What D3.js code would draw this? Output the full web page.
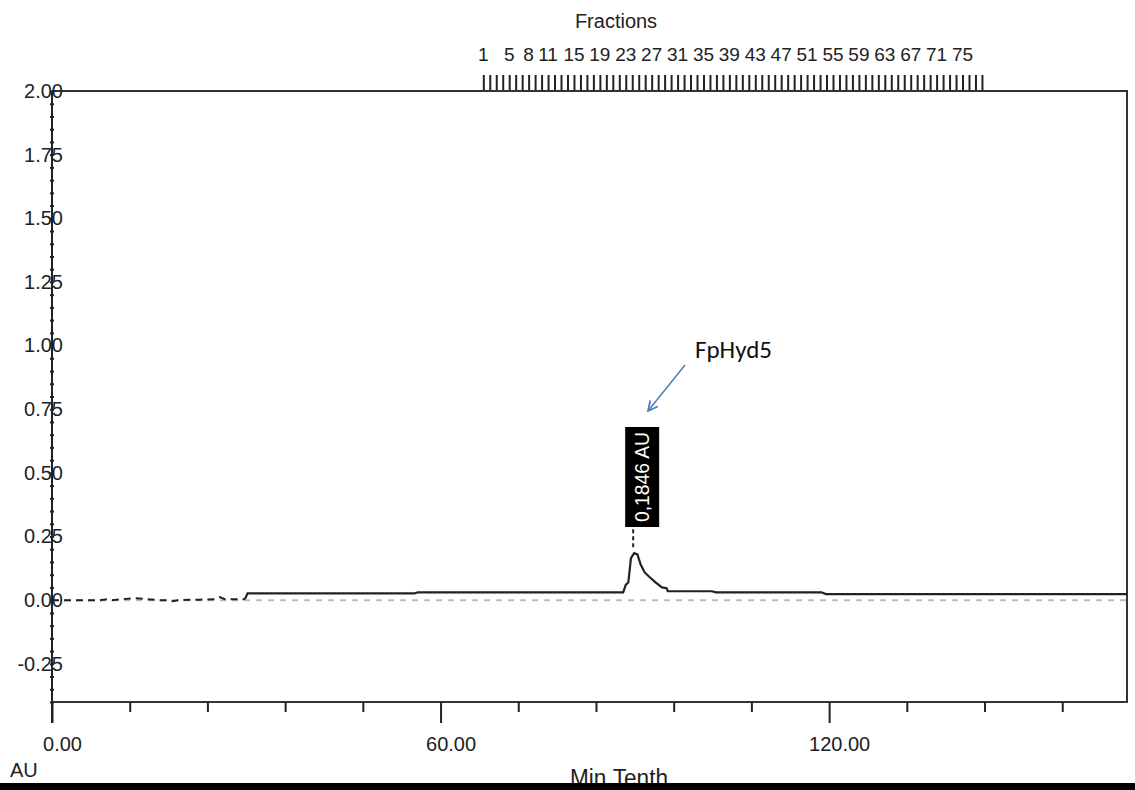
<!DOCTYPE html>
<html>
<head>
<meta charset="utf-8">
<script src="https://cdn.jsdelivr.net/npm/d3@7"></script>
<style>
  body { margin: 0; background: #fff; }
  svg { display: block; font-family: "Liberation Sans", Arial, sans-serif; }
</style>
</head>
<body>
<svg width="1135" height="790"></svg>
<script>
// chromatogram values (x in Min.Tenth, y in AU)
const noiseX = [0, 7.4, 8.5, 9.3, 12.8, 14.7, 16.6, 18.2, 18.7, 19.4, 22.8, 25.1, 25.9, 26.7, 29.8];
const noiseY = [0, 0, 0.004, 0, 0.008, 0.004, 0, 0, -0.004, 0, 0.002, 0.004, 0.012, 0.004, 0.004];

const traceX = [29.8, 30.2, 56.0, 56.5, 88.2, 88.6, 89.0, 89.4, 89.9, 90.4, 90.9, 91.5, 92.3, 93.2, 94.2, 94.9, 95.1, 101.9, 102.5, 118.8, 119.5, 166];
const traceY = [0.004, 0.027, 0.027, 0.031, 0.031, 0.06, 0.07, 0.165, 0.1846, 0.18, 0.14, 0.11, 0.09, 0.07, 0.05, 0.047, 0.035, 0.035, 0.031, 0.031, 0.024, 0.024];

const yMajor = [-0.25, 0, 0.25, 0.5, 0.75, 1, 1.25, 1.5, 1.75, 2];
const xMajor = [0, 60, 120];
const xMinor = [12, 24, 36, 48, 72, 84, 96, 108, 132, 144, 156];

const fractionStart = 66.6;   // Min.Tenth of fraction 1
const fractionCount = 78;
const fractionLabels = [1, 5, 8, 11, 15, 19, 23, 27, 31, 35, 39, 43, 47, 51, 55, 59, 63, 67, 71, 75];

const peakX = 89.9, peakY = 0.1846, peakLabel = "0,1846 AU";

const svg = d3.select("svg");
const plotL = 52, plotR = 1127, plotT = 91, plotB = 702;

const x = d3.scaleLinear().domain([0, 166]).range([plotL, plotR]);
const y = d3.scaleLinear().domain([-0.4, 2.0]).range([plotB, plotT]);

const fmt2 = d => d3.format(".2f")(d).replace("\u2212", "-");

// zero baseline
svg.append("line")
  .attr("x1", plotL).attr("x2", plotR)
  .attr("y1", y(0)).attr("y2", y(0))
  .style("stroke", "#bdbdbd").style("stroke-width", 2)
  .style("stroke-dasharray", "6,6");

// frame
svg.append("path")
  .attr("d", `M${plotL},${plotT}H${plotR}V${plotB}H${plotL}`)
  .style("fill", "none").style("stroke", "#333").style("stroke-width", 2);
svg.append("line")
  .attr("x1", plotL).attr("x2", plotL).attr("y1", plotT).attr("y2", plotB + 21)
  .style("stroke", "#222").style("stroke-width", 2);

// y axis minor ticks
svg.append("g")
  .attr("transform", `translate(${plotL + 2},0)`)
  .call(d3.axisLeft(y).tickValues(d3.range(-0.4, 2.001, 0.05)).tickSize(4).tickFormat(""))
  .call(g => g.select(".domain").remove())
  .call(g => g.selectAll("line").style("stroke", "#222").style("stroke-width", 2));

// y axis labels
svg.append("g")
  .attr("transform", `translate(${plotL},0)`)
  .call(d3.axisLeft(y).tickValues(yMajor).tickSize(0).tickPadding(-11).tickFormat(fmt2))
  .call(g => g.select(".domain").remove())
  .call(g => g.selectAll("text")
    .attr("text-anchor", "end")
    .style("font-size", "20px").style("fill", "#222")
    .style("font-family", "'Liberation Sans', Arial, sans-serif"));

// x axis
svg.append("g")
  .attr("transform", `translate(0,${plotB})`)
  .call(d3.axisBottom(x).tickValues(xMinor).tickSize(10).tickFormat(""))
  .call(g => g.select(".domain").remove())
  .call(g => g.selectAll("line").style("stroke", "#222").style("stroke-width", 2));

svg.append("g")
  .attr("transform", `translate(0,${plotB})`)
  .call(d3.axisBottom(x).tickValues(xMajor).tickSize(21).tickPadding(14).tickFormat(fmt2))
  .call(g => g.select(".domain").remove())
  .call(g => g.selectAll("line").style("stroke", "#222").style("stroke-width", 2))
  .call(g => g.selectAll("text")
    .attr("dx", 10)
    .style("font-size", "20px").style("fill", "#222")
    .style("font-family", "'Liberation Sans', Arial, sans-serif"));

svg.append("text").attr("x", 10).attr("y", 777).text("AU")
  .style("font-size", "20px").style("fill", "#222");
svg.append("text").attr("x", 570).attr("y", 786).text("Min.Tenth")
  .attr("textLength", 98).attr("lengthAdjust", "spacingAndGlyphs")
  .style("font-size", "23px").style("fill", "#222");

// bottom black bar
svg.append("rect").attr("x", 0).attr("y", 783).attr("width", 1135).attr("height", 7)
  .style("fill", "#000");

// fractions
const fractionNums = d3.range(1, fractionCount + 1);
const fx = n => x(fractionStart + n - 1);

svg.append("g")
  .attr("transform", `translate(0,${plotT - 1})`)
  .call(d3.axisTop(x).tickValues(fractionNums.map(n => fractionStart + n - 1)).tickSize(15).tickFormat(""))
  .call(g => g.select(".domain").remove())
  .call(g => g.selectAll("line").style("stroke", "#222").style("stroke-width", 2));

svg.append("g")
  .selectAll("text")
  .data(fractionLabels)
  .join("text")
  .attr("x", d => fx(d))
  .attr("y", 61)
  .attr("text-anchor", "middle")
  .text(d => d)
  .style("font-size", "19px").style("fill", "#222");

svg.append("text").attr("x", 616).attr("y", 28).attr("text-anchor", "middle")
  .text("Fractions").style("font-size", "20px").style("fill", "#222");

// trace
const line = d3.line().x(d => x(d[0])).y(d => y(d[1]));

svg.append("path")
  .datum(d3.zip(noiseX, noiseY))
  .attr("d", line)
  .style("fill", "none").style("stroke", "#222").style("stroke-width", 2)
  .style("stroke-dasharray", "7,5");

svg.append("path")
  .datum(d3.zip(traceX, traceY))
  .attr("d", line)
  .style("fill", "none").style("stroke", "#222").style("stroke-width", 2.2);

// peak label
svg.append("line")
  .attr("x1", x(peakX) - 1).attr("x2", x(peakX) - 1)
  .attr("y1", y(peakY) - 6).attr("y2", 528)
  .style("stroke", "#222").style("stroke-width", 2).style("stroke-dasharray", "4,3");
svg.append("rect")
  .attr("x", x(peakX) - 9).attr("y", 427).attr("width", 34).attr("height", 100)
  .style("fill", "#000");
svg.append("text")
  .attr("transform", `translate(${x(peakX) + 15},477) rotate(-90)`)
  .attr("text-anchor", "middle")
  .attr("textLength", 90).attr("lengthAdjust", "spacingAndGlyphs")
  .text(peakLabel)
  .style("font-size", "21px").style("fill", "#fff");

// annotation
svg.append("text").attr("x", 695).attr("y", 358).text("FpHyd5")
  .style("font-family", "Carlito, Calibri, 'Open Sans', sans-serif")
  .style("font-size", "25px").style("fill", "#111");

svg.append("defs").append("marker")
  .attr("id", "arr").attr("viewBox", "0 0 10 10")
  .attr("refX", 9).attr("refY", 5)
  .attr("markerWidth", 8).attr("markerHeight", 8)
  .attr("orient", "auto")
  .append("path").attr("d", "M1,1L9,5L1,9")
  .style("fill", "none").style("stroke", "#4a7ebb").style("stroke-width", 1.5);

svg.append("line")
  .attr("x1", 685).attr("y1", 365).attr("x2", 648).attr("y2", 411)
  .attr("marker-end", "url(#arr)")
  .style("stroke", "#4a7ebb").style("stroke-width", 1.5);
</script>
</body>
</html>
